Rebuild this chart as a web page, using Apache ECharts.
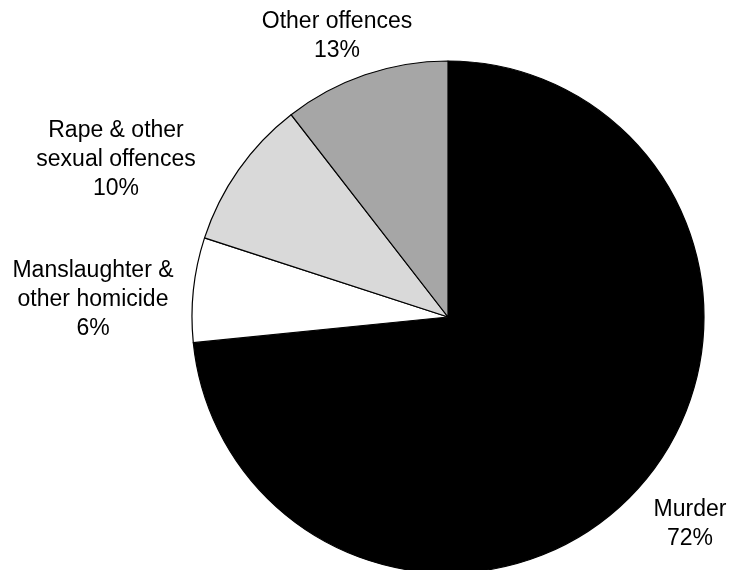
<!DOCTYPE html>
<html>
<head>
<meta charset="utf-8">
<script src="https://cdn.jsdelivr.net/npm/echarts@6/dist/echarts.min.js"></script>
<style>
html,body{margin:0;padding:0;background:#fff;}
#chart{width:730px;height:570px;}
</style>
</head>
<body>
<div id="chart"></div>
<script>
// Data (clockwise from 12 o'clock)
var categories = ["Murder", "Manslaughter &\nother homicide", "Rape & other\nsexual offences", "Other offences"];
var sliceValues = [73.4, 6.6, 9.5, 10.5];
var percentLabels = ["72%", "6%", "10%", "13%"];
var sliceColors = ["#000000", "#ffffff", "#d9d9d9", "#a6a6a6"];

// label block centres (layout only)
var labelPos = [[690, 524], [93, 300], [116, 160], [337, 36]];

var chart = echarts.init(document.getElementById('chart'), null, {renderer: 'canvas'});
var data = categories.map(function (c, i) {
  return { name: c, value: sliceValues[i], itemStyle: { color: sliceColors[i] } };
});
chart.setOption({
  animation: false,
  backgroundColor: '#ffffff',
  series: [{
    type: 'pie',
    center: [448, 317],
    radius: 256,
    startAngle: 90,
    clockwise: true,
    avoidLabelOverlap: false,
    data: data,
    itemStyle: { borderColor: '#000000', borderWidth: 1.2 },
    emphasis: { disabled: true },
    label: {
      show: true,
      position: 'outside',
      formatter: function (p) { return p.name + '\n' + percentLabels[p.dataIndex]; },
      fontFamily: 'Liberation Sans, Arial, sans-serif',
      fontSize: 23,
      lineHeight: 29,
      color: '#000000',
      align: 'center'
    },
    labelLine: { show: false },
    labelLayout: function (params) {
      var p = labelPos[params.dataIndex];
      return { x: p[0], y: p[1], align: 'center', verticalAlign: 'middle', hideOverlap: false };
    }
  }]
});
</script>
</body>
</html>
